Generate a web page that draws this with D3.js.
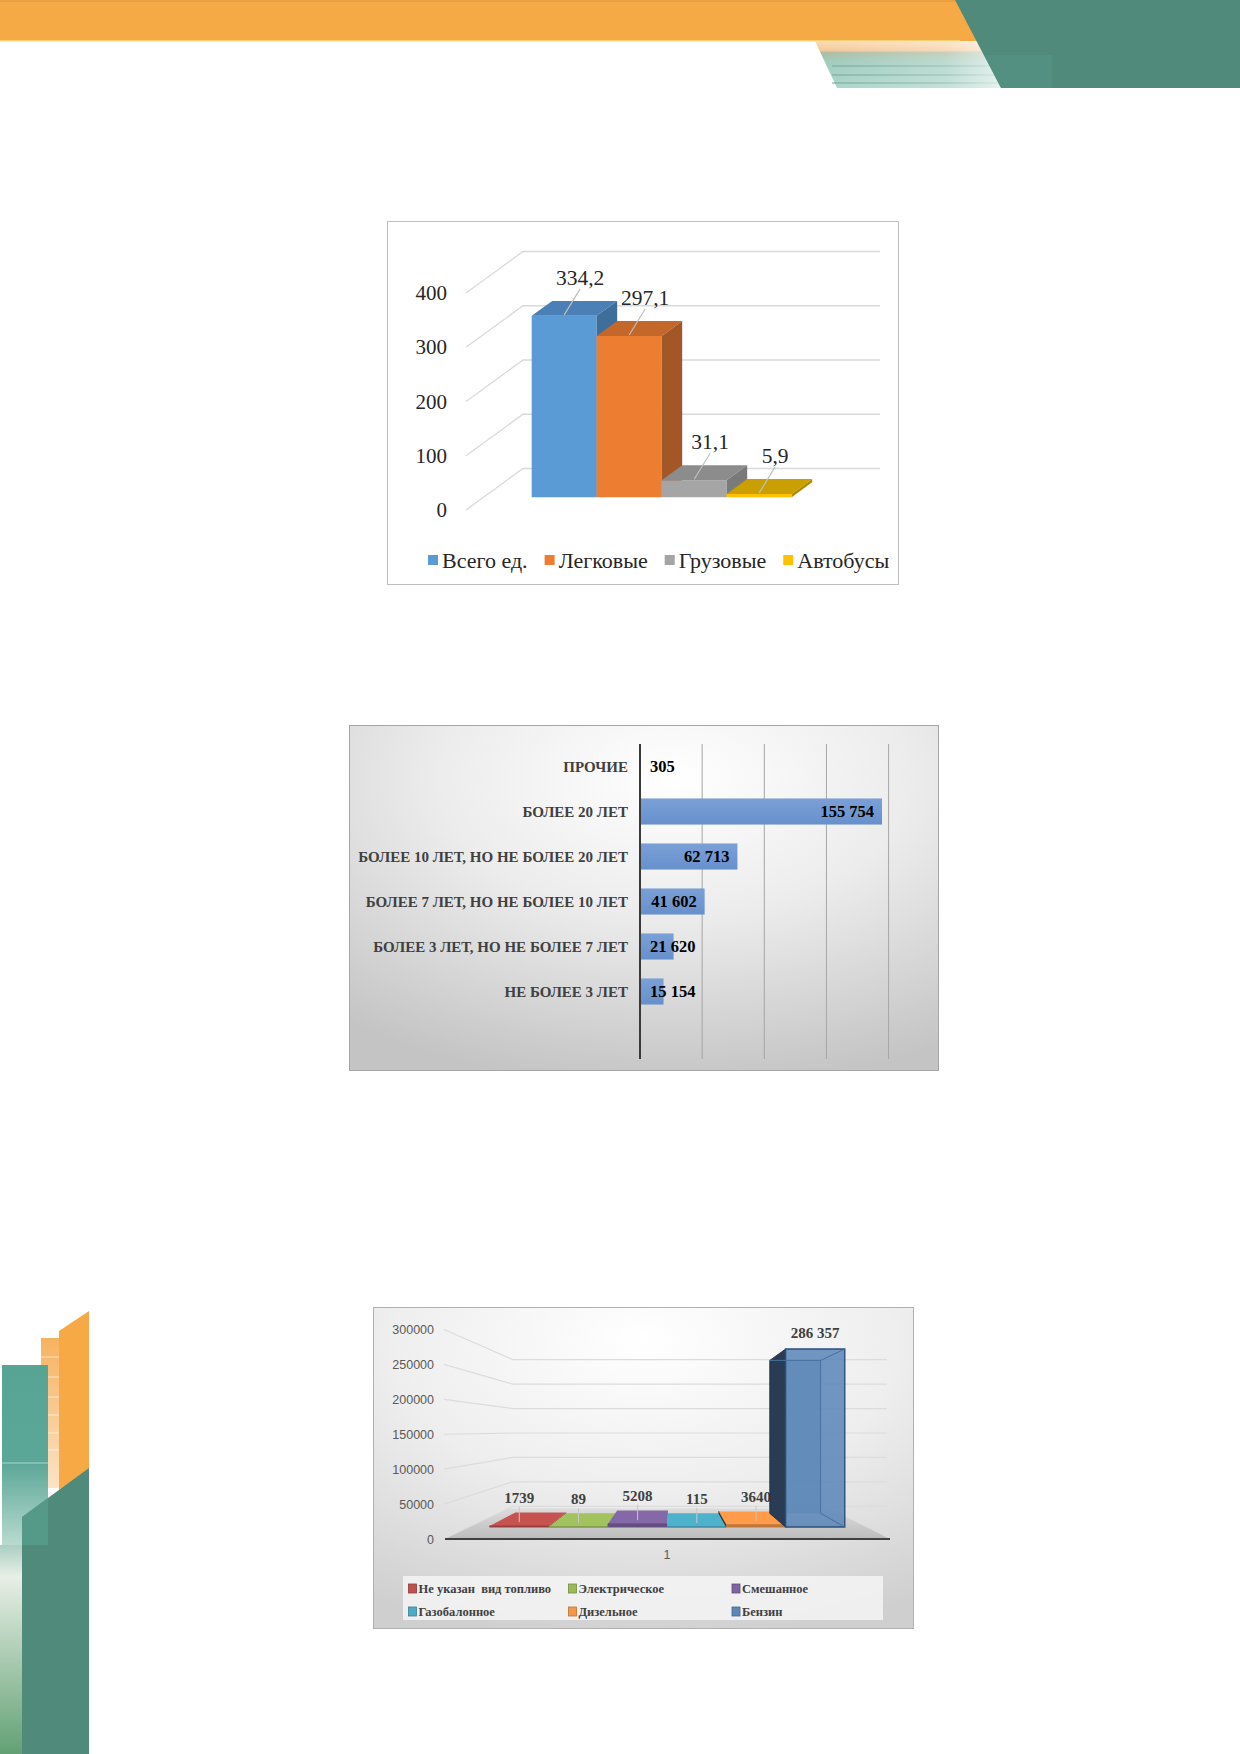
<!DOCTYPE html>
<html>
<head>
<meta charset="utf-8">
<script src="https://cdn.jsdelivr.net/npm/d3@7"></script>
<style>
body { margin: 0; background: #fff; }
svg { display: block; }
</style>
</head>
<body>
<div id="page"></div>
<script>
// chart 1 - vehicles by type
var vehTypes = ["Всего ед.", "Легковые", "Грузовые", "Автобусы"];
var vehValues = [334.2, 297.1, 31.1, 5.9];
var vehTicks = [0, 100, 200, 300, 400];
var vehColors = [["#5b9bd5", "#4a80b5", "#3f6e9b"], ["#ed7d31", "#c4672a", "#a35726"], ["#a5a5a5", "#8c8c8c", "#7a7a7a"], ["#ffc000", "#c9a000", "#b08c00"]];

// chart 2 - vehicles by age
var ageCats = ["ПРОЧИЕ", "БОЛЕЕ 20 ЛЕТ", "БОЛЕЕ 10 ЛЕТ, НО НЕ БОЛЕЕ 20 ЛЕТ", "БОЛЕЕ 7 ЛЕТ, НО НЕ БОЛЕЕ 10 ЛЕТ", "БОЛЕЕ 3 ЛЕТ, НО НЕ БОЛЕЕ 7 ЛЕТ", "НЕ БОЛЕЕ 3 ЛЕТ", ""];
var ageValues = [305, 155754, 62713, 41602, 21620, 15154, null];
var ageTicks = [0, 40000, 80000, 120000, 160000];

// chart 3 - vehicles by fuel
var fuelTypes = ["Не указан  вид топливо", "Электрическое", "Смешанное", "Газобалонное", "Дизельное", "Бензин"];
var fuelValues = [1739, 89, 5208, 115, 3640, 286357];
var fuelTicks = [0, 50000, 100000, 150000, 200000, 250000, 300000];
var fuelCategory = ["1"];
var fuelColors = ["#c0504d", "#9bbb59", "#8064a2", "#4bacc6", "#f79646", "#5d87b8"];

var ru = d3.formatLocale({decimal: ",", thousands: "\u00a0", grouping: [3], currency: ["", " руб."]});
var fmtDec = ru.format(".1f"), fmtInt = ru.format(",d");
function fmtRu(v) { return v >= 10000 ? fmtInt(v) : String(v); }

var serif = "'Liberation Serif', 'DejaVu Serif', serif";
var sans = "'Liberation Sans', Arial, sans-serif";

var svg = d3.select("#page").append("svg")
  .attr("width", 1240)
  .attr("height", 1754);
var defs = svg.append("defs");

function linGrad(id, x2, y2, stops) {
  var g = defs.append("linearGradient").attr("id", id)
    .attr("x1", 0).attr("y1", 0).attr("x2", x2).attr("y2", y2);
  stops.forEach(function(s) { g.append("stop").attr("offset", s[0]).attr("stop-color", s[1]).attr("stop-opacity", s[2] == null ? 1 : s[2]); });
}
function radGrad(id, cx, cy, r, stops) {
  var g = defs.append("radialGradient").attr("id", id)
    .attr("cx", cx).attr("cy", cy).attr("r", r);
  stops.forEach(function(s) { g.append("stop").attr("offset", s[0]).attr("stop-color", s[1]); });
}
linGrad("stripeV", 0, 1, [[0, "#fbdcb4"], [0.2, "#f3c89a"], [0.25, "#a9bca2"], [0.45, "#9fcbbd"], [1, "#a8d4c8"]]);
linGrad("stripeH", 1, 0, [[0, "#fff", 0], [0.7, "#fff", 0.3], [1, "#fff", 0.7]]);
linGrad("peach", 0, 1, [[0, "#f7b260"], [1, "#fbe3c6"]]);
linGrad("tealRect", 0, 1, [[0, "#58a494"], [0.55, "#5ca898"], [1, "#b9dacf"]]);
linGrad("leftStrip", 0, 1, [[0, "#a9cfc3"], [0.15, "#e8efe6"], [1, "#62a174"]]);
radGrad("bg2", "55%", "15%", "90%", [[0, "#ffffff"], [0.45, "#ececec"], [1, "#c4c4c4"]]);
radGrad("bg3", "50%", "10%", "95%", [[0, "#ffffff"], [0.5, "#eeeeee"], [1, "#cfcfcf"]]);
linGrad("floor3", 0, 1, [[0, "#dcdcdc"], [1, "#bcbcbc"]]);
linGrad("bar2", 0, 1, [[0, "#7aa0d6"], [1, "#6790cc"]]);

// page decoration
var deco = svg.append("g");
deco.append("rect").attr("x", 0).attr("y", 0).attr("width", 1240).attr("height", 41).attr("fill", "#f6aa45");
deco.append("rect").attr("x", 0).attr("y", 0).attr("width", 1240).attr("height", 2).attr("fill", "#e9a040");
deco.append("rect").attr("x", 0).attr("y", 40).attr("width", 960).attr("height", 1.5).attr("fill", "#f8cf73");
var stripe = [[815, 41], [1000, 41], [1000, 88], [837, 88]];
deco.append("polygon").attr("points", stripe.join(" ")).attr("fill", "url(#stripeV)");
[66, 75, 83].forEach(function(y) {
  deco.append("line").attr("x1", 832).attr("x2", 1000).attr("y1", y).attr("y2", y)
    .attr("stroke", "#6f9f92").attr("stroke-width", 1.2);
});
deco.append("polygon").attr("points", stripe.join(" ")).attr("fill", "url(#stripeH)");
deco.append("polygon").attr("points", [[955, 0], [1240, 0], [1240, 88], [1001, 88]].join(" ")).attr("fill", "#4f8a7a");
deco.append("polygon").attr("points", [[984, 55], [1052, 55], [1052, 88], [1001, 88]].join(" ")).attr("fill", "#569586").attr("opacity", 0.6);

deco.append("rect").attr("x", 41).attr("y", 1338).attr("width", 18).attr("height", 150).attr("fill", "url(#peach)");
[1357, 1377, 1397, 1415, 1433, 1450].forEach(function(y) {
  deco.append("line").attr("x1", 41).attr("x2", 59).attr("y1", y).attr("y2", y).attr("stroke", "#fff").attr("stroke-opacity", 0.6);
});
deco.append("polygon").attr("points", [[59, 1331], [89, 1311], [89, 1470], [59, 1490]].join(" ")).attr("fill", "#f6a945");
deco.append("rect").attr("x", 0).attr("y", 1545).attr("width", 22).attr("height", 209).attr("fill", "url(#leftStrip)");
deco.append("rect").attr("x", 2).attr("y", 1365).attr("width", 46).attr("height", 180).attr("fill", "url(#tealRect)");
deco.append("line").attr("x1", 2).attr("x2", 48).attr("y1", 1463).attr("y2", 1463).attr("stroke", "#fff").attr("stroke-opacity", 0.5);
deco.append("polygon").attr("points", [[22, 1517], [89, 1468], [89, 1754], [22, 1754]].join(" ")).attr("fill", "#4f8a7a");
deco.append("polygon").attr("points", [[22, 1517], [48, 1498], [48, 1545], [22, 1545]].join(" ")).attr("fill", "#5aa393").attr("opacity", 0.6);

// ---------- chart 1 ----------
var c1 = svg.append("g");
c1.append("rect").attr("x", 387.5).attr("y", 221.5).attr("width", 511).attr("height", 363)
  .attr("fill", "#fff").attr("stroke", "#bfbfbf");

var dep1 = [57, -41.5];
var y1 = d3.scaleLinear().domain([0, 400]).range([510, 293]);
var x1 = d3.scaleBand().domain(vehTypes).range([514, 774]);

vehTicks.forEach(function(t) {
  var yy = y1(t);
  c1.append("polyline")
    .attr("points", [[466, yy], [466 + dep1[0], yy + dep1[1]], [880, yy + dep1[1]]].join(" "))
    .attr("fill", "none").attr("stroke", "#d9d9d9").attr("stroke-width", 1.3);
  c1.append("text").attr("x", 447).attr("y", yy + 7).attr("text-anchor", "end")
    .attr("font-family", serif).attr("font-size", 21).attr("fill", "#262626").text(t);
});

var zf = 0.31, zb = 0.67;
vehTypes.forEach(function(name, i) {
  var v = vehValues[i], cols = vehColors[i];
  var xa = x1(name) + dep1[0] * zf, xb = xa + x1.bandwidth();
  var ya = y1(0) + dep1[1] * zf, yt = y1(v) + dep1[1] * zf;
  var dx = dep1[0] * (zb - zf), dy = dep1[1] * (zb - zf);
  c1.append("polygon").attr("points", [[xa, ya], [xb, ya], [xb, yt], [xa, yt]].join(" ")).attr("fill", cols[0]);
  c1.append("polygon").attr("points", [[xa, yt], [xb, yt], [xb + dx, yt + dy], [xa + dx, yt + dy]].join(" ")).attr("fill", cols[1]);
  c1.append("polygon").attr("points", [[xb, ya], [xb + dx, ya + dy], [xb + dx, yt + dy], [xb, yt]].join(" ")).attr("fill", cols[2]);
  var cx = (xa + xb) / 2;
  c1.append("line").attr("x1", cx + 16).attr("y1", yt - 27).attr("x2", cx).attr("y2", yt - 1)
    .attr("stroke", "#bfbfbf").attr("stroke-width", 1.2);
  c1.append("text").attr("x", cx + 16).attr("y", yt - 31).attr("text-anchor", "middle")
    .attr("font-family", serif).attr("font-size", 21.5).attr("fill", "#262626").text(fmtDec(v));
});

var lg1 = c1.append("g").attr("font-family", serif).attr("font-size", 22).attr("fill", "#262626");
var lx = 428;
vehTypes.forEach(function(name, i) {
  lg1.append("rect").attr("x", lx).attr("y", 555).attr("width", 10).attr("height", 10).attr("fill", vehColors[i][0]);
  var t = lg1.append("text").attr("x", lx + 14).attr("y", 568).text(name);
  lx += 14 + t.node().getComputedTextLength() + 17;
});

// ---------- chart 2 ----------
var c2 = svg.append("g");
c2.append("rect").attr("x", 349.5).attr("y", 725.5).attr("width", 589).attr("height", 345)
  .attr("fill", "url(#bg2)").attr("stroke", "#a6a6a6");

var x2 = d3.scaleLinear().domain([0, 155754]).range([640, 882]);
var y2 = d3.scaleBand().domain(ageCats).range([744, 1059]).paddingInner(0.42).paddingOuter(0.21);

ageTicks.slice(1).forEach(function(t) {
  c2.append("line").attr("x1", x2(t)).attr("x2", x2(t)).attr("y1", 744).attr("y2", 1059)
    .attr("stroke", "#a6a6a6").attr("stroke-width", 1);
});

c2.selectAll("rect.bar").data(ageCats.filter(function(c, i) { return ageValues[i] != null; }))
  .enter().append("rect").attr("class", "bar")
  .attr("x", x2(0))
  .attr("y", function(d) { return y2(d); })
  .attr("width", function(d) { return Math.max(0.5, x2(ageValues[ageCats.indexOf(d)]) - x2(0)); })
  .attr("height", y2.bandwidth())
  .attr("fill", "url(#bar2)");

c2.append("line").attr("x1", x2(0)).attr("x2", x2(0)).attr("y1", 744).attr("y2", 1059)
  .attr("stroke", "#3a3a3a").attr("stroke-width", 2);

ageCats.forEach(function(c, i) {
  if (ageValues[i] == null) return;
  var yc = y2(c) + y2.bandwidth() / 2;
  c2.append("text").attr("x", 628).attr("y", yc + 5).attr("text-anchor", "end")
    .attr("font-family", serif).attr("font-weight", "bold").attr("font-size", 15)
    .attr("fill", "#404040").text(c);
  var t = c2.append("text").attr("y", yc + 5.5).attr("text-anchor", "end")
    .attr("font-family", serif).attr("font-weight", "bold").attr("font-size", 16.5)
    .attr("fill", "#000").text(fmtRu(ageValues[i]));
  var w = t.node().getComputedTextLength();
  t.attr("x", Math.max(x2(ageValues[i]) - 8, x2(0) + 10 + w));
});

// ---------- chart 3 ----------
var c3 = svg.append("g");
c3.append("rect").attr("x", 373.5).attr("y", 1307.5).attr("width", 540).attr("height", 321)
  .attr("fill", "url(#bg3)").attr("stroke", "#b0b0b0");

var vp3 = [673, 1430];
function proj(x, y, t) { return [x + t * (vp3[0] - x), y + t * (vp3[1] - y)]; }
var y3 = d3.scaleLinear().domain([0, 300000]).range([1539, 1329.5]);
var x3 = d3.scaleBand().domain(fuelTypes).range([467, 866]);

fuelTicks.forEach(function(t) {
  var p0 = [444, y3(t)], p1 = proj(444, y3(t), 0.3);
  c3.append("polyline").attr("points", [p0, p1, [887, p1[1]]].join(" "))
    .attr("fill", "none").attr("stroke", "#dcdcdc").attr("stroke-width", 1.2);
  c3.append("text").attr("x", 434).attr("y", y3(t) + 4.5).attr("text-anchor", "end")
    .attr("font-family", sans).attr("font-size", 12.5).attr("fill", "#595959").text(t);
});

var fl = [[445, y3(0)], [890, y3(0)], proj(890, y3(0), 0.28), proj(445, y3(0), 0.28)];
c3.append("polygon").attr("points", fl.join(" ")).attr("fill", "url(#floor3)");

var tf = 0.11, tb = 0.235;
fuelTypes.forEach(function(name, i) {
  var v = fuelValues[i], col = d3.color(fuelColors[i]);
  var xa = x3(name), xb = xa + x3.bandwidth(), ya = y3(0), yt = y3(v);
  var FLb = proj(xa, ya, tf), FRb = proj(xb, ya, tf), FRt = proj(xb, yt, tf), FLt = proj(xa, yt, tf);
  var BLb = proj(xa, ya, tb), BRb = proj(xb, ya, tb), BRt = proj(xb, yt, tb), BLt = proj(xa, yt, tb);
  var g = c3.append("g");
  var tall = FLt[1] < vp3[1];
  if (tall) {
    g.append("polygon").attr("points", [BLb, BRb, BRt, BLt].join(" ")).attr("fill", col.darker(0.2)).attr("opacity", 0.6);
  }
  if (xa > vp3[0]) g.append("polygon").attr("points", [FLb, FLt, BLt, BLb].join(" ")).attr("fill", "#2a3c54").attr("stroke", "#1c2c40").attr("stroke-width", 0.8);
  if (xb < vp3[0]) g.append("polygon").attr("points", [FRb, FRt, BRt, BRb].join(" ")).attr("fill", col.darker(0.8));
  if (!tall) g.append("polygon").attr("points", [FLt, FRt, BRt, BLt].join(" ")).attr("fill", col.brighter(0.1));
  g.append("polygon").attr("points", [FLb, FRb, FRt, FLt].join(" "))
    .attr("fill", tall ? col : col.darker(0.7)).attr("fill-opacity", tall ? 0.88 : 1)
    .attr("stroke", tall ? "#2b4f7c" : col.darker(0.6)).attr("stroke-width", tall ? 1.4 : 1);
  if (tall) {
    g.append("polyline").attr("points", [FRt, BRt, BRb, FRb].join(" ")).attr("fill", "none").attr("stroke", "#46709f").attr("stroke-width", 1);
    g.append("polyline").attr("points", [BLt, BRt].join(" ")).attr("fill", "none").attr("stroke", "#46709f").attr("stroke-width", 1);
  }
  var cx = (FLt[0] + FRt[0]) / 2, base = tall ? FLt[1] - 11 : FLt[1] - 23;
  if (!tall) {
    c3.append("line").attr("x1", cx).attr("x2", cx).attr("y1", base + 4).attr("y2", (FLt[1] + BLt[1]) / 2 + 3)
      .attr("stroke", "#c8c8c8").attr("stroke-width", 1);
  }
  c3.append("text").attr("x", cx).attr("y", base).attr("text-anchor", "middle")
    .attr("font-family", serif).attr("font-weight", "bold").attr("font-size", 15)
    .attr("fill", "#404040").text(fmtRu(v));
});

c3.append("line").attr("x1", 445).attr("x2", 890).attr("y1", y3(0)).attr("y2", y3(0))
  .attr("stroke", "#404040").attr("stroke-width", 2);
c3.append("text").attr("x", 667).attr("y", 1559).attr("text-anchor", "middle")
  .attr("font-family", sans).attr("font-size", 12.5).attr("fill", "#595959").text(fuelCategory[0]);

c3.append("rect").attr("x", 403).attr("y", 1576).attr("width", 480).attr("height", 44)
  .attr("fill", "#f4f4f4").attr("opacity", 0.85);
var legCols = [408.5, 568.5, 732];
fuelTypes.forEach(function(name, i) {
  var lxx = legCols[i % 3], lyy = i < 3 ? 1593 : 1616;
  c3.append("rect").attr("x", lxx).attr("y", lyy - 9).attr("width", 8).attr("height", 9)
    .attr("fill", fuelColors[i]).attr("stroke", d3.color(fuelColors[i]).darker(0.8)).attr("stroke-width", 0.8);
  c3.append("text").attr("x", lxx + 10).attr("y", lyy).attr("font-family", serif).attr("font-weight", "bold")
    .attr("font-size", 12.5).attr("fill", "#404040").style("white-space", "pre").text(name);
});
</script>
</body>
</html>
